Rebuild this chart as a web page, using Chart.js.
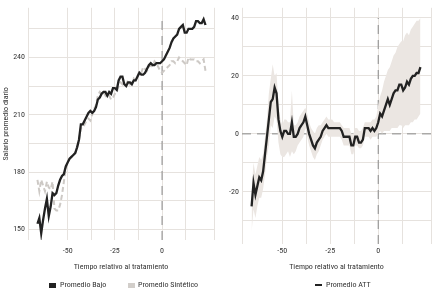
<!DOCTYPE html>
<html lang="es">
<head>
  <meta charset="UTF-8">
  <title>Salario promedio diario</title>
  <script src="https://cdn.jsdelivr.net/npm/chart.js"></script>
  <style>
    body { margin: 0; background: #fff; width: 435px; height: 291px; position: relative; overflow: hidden;
           font-family: 'Roboto Condensed', 'DejaVu Sans Condensed', sans-serif; color: #333; }
    canvas { position: absolute; top: 0; }
    #izq { left: 0; }
    #der { left: 220px; }
    .ley { position: absolute; top: 280px; font-size: 8px; font-weight: normal; line-height: 10px;
           white-space: nowrap; color: #333; transform: translateZ(0); }
    .caja { position: absolute; }
  </style>
</head>
<body>
<canvas id="izq" width="220" height="276"></canvas>
<canvas id="der" width="215" height="276"></canvas>

<!-- leyendas -->
<div class="caja" style="left:49px; top:283px; width:7px; height:5px; background:#222;"></div>
<div class="ley" style="left:60px;">Promedio Bajo</div>
<div class="caja" style="left:128px; top:283px; width:7px; height:5px; background:#d2ceca;"></div>
<div class="ley" style="left:138px;">Promedio Sintético</div>
<div class="caja" style="left:315px; top:284px; width:7px; height:2px; background:#222;"></div>
<div class="ley" style="left:326px;">Promedio ATT</div>

<script>
  // panel izquierdo
  const tiempo = [-66, -65, -64, -63, -62, -61, -60, -59, -58, -57, -56, -55, -54, -53, -52, -51, -50, -49, -48, -47,
    -46, -45, -44, -43, -42, -41, -40, -39, -38, -37, -36, -35, -34, -33, -32, -31, -30, -29, -28, -27,
    -26, -25, -24, -23, -22, -21, -20, -19, -18, -17, -16, -15, -14, -13, -12, -11, -10, -9, -8, -7,
    -6, -5, -4, -3, -2, -1, 0, 1, 2, 3, 4, 5, 6, 7, 8, 9, 10, 11, 12, 13,
    14, 15, 16, 17, 18, 19, 20, 21, 22, 23];
  const promedioBajo = [153, 156, 148, 155, 161, 166, 157, 162, 169, 168, 169, 173, 176, 178, 179, 183, 185, 187, 188, 189,
    190, 193, 197, 205, 205, 207, 209, 211, 212, 211, 212, 214, 218, 219, 221, 222, 222, 220, 222, 221,
    224, 224, 223, 228, 230, 230, 226, 225, 227, 227, 226, 228, 228, 230, 232, 231, 231, 232, 234, 236,
    237, 236, 236, 237, 237, 237, 238, 239, 241, 243, 245, 248, 250, 251, 252, 255, 256, 257, 253, 253,
    255, 255, 255, 256, 259, 259, 258, 258, 260, 257];
  const promedioSintetico = [176, 170, 176, 173, 170, 175, 172, 171, 175, 161, 160, 160, 163, 168, 175, 182, 185, 187, 188, 189,
    190, 193, 197, 203, 203, 205, 207, 208, 207, 210, 213, 215, 220, 222, 221, 222, 220, 219, 220, 218,
    219, 221, 222, 225, 227, 226, 225, 226, 228, 226, 227, 229, 228, 230, 233, 232, 235, 234, 233, 235,
    236, 235, 238, 237, 235, 233, 232, 233, 234, 235, 236, 238, 238, 237, 238, 240, 239, 238, 237, 236,
    240, 239, 239, 239, 238, 238, 237, 238, 239, 233];

  // panel derecho
  const tiempoATT = [-66, -65, -64, -63, -62, -61, -60, -59, -58, -57, -56, -55, -54, -53, -52, -51, -50, -49, -48, -47,
    -46, -45, -44, -43, -42, -41, -40, -39, -38, -37, -36, -35, -34, -33, -32, -31, -30, -29, -28, -27,
    -26, -25, -24, -23, -22, -21, -20, -19, -18, -17, -16, -15, -14, -13, -12, -11, -10, -9, -8, -7,
    -6, -5, -4, -3, -2, -1, 0, 1, 2, 3, 4, 5, 6, 7, 8, 9, 10, 11, 12, 13,
    14, 15, 16, 17, 18, 19, 20, 21, 22];
  const promedioATT = [-25, -17, -21, -18, -15, -16, -13, -7, -1, 5, 11, 12, 16, 14, 5, 1, -1, 1, 1, 0,
    0, 4, -1, -1, 0, 2, 3, 4, 6, 3, 0, -2, -4, -5, -3, -2, -1, 1, 2, 3,
    2, 2, 2, 2, 2, 2, 2, 1, -1, -1, -1, -1, -4, -4, -1, -1, -3, -3, -2, 2,
    2, 2, 1, 2, 1, 2, 4, 7, 6, 8, 10, 12, 10, 12, 14, 15, 15, 17, 17, 15,
    16, 18, 17, 19, 20, 20, 21, 21, 23];
  const attSuperior = [-19, -10, -14, -11, -8, -9, -7, -1, 5, 14, 19, 24, 20, 21, 10, 5, 3, 5, 5, 4,
    4, 15, 3, 3, 4, 6, 7, 8, 9, 7, 4, 2, 1, 0, 2, 3, 3, 4, 5, 6,
    5, 5, 5, 4, 4, 4, 4, 3, 2, 2, 2, 2, 0, 0, 2, 2, 1, 1, 2, 4,
    4, 4, 4, 5, 5, 6, 10, 13, 15, 18, 20, 22, 23, 25, 27, 28, 30, 31, 32, 32,
    34, 35, 34, 36, 37, 38, 39, 39, 40];
  const attInferior = [-34, -26, -29, -25, -22, -22, -19, -14, -8, -4, 3, 2, 6, 5, -3, -7, -8, -8, -7, -6,
    -8, -6, -7, -6, -4, -3, -2, -1, 2, -1, -4, -6, -8, -9, -7, -6, -4, -2, -1, 0,
    -1, -1, -1, -1, -1, -1, -1, -2, -4, -4, -4, -4, -7, -7, -4, -4, -5, -5, -4, -1,
    -1, -1, -2, -1, -1, -1, 0, 1, 0, 1, 1, 1, 1, 2, 2, 2, 2, 3, 3, 2,
    3, 3, 3, 4, 4, 5, 5, 6, 7];

  // lineas de referencia (tratamiento en t = 0)
  const refTiempo = [0, 0];
  const refSalario = [144.5, 260];
  const refATT = [-38, 40];
  const ceroTiempo = [-71, 27.5];
  const ceroATT = [0, 0];

  const fuente = "'Roboto Condensed', 'DejaVu Sans Condensed', sans-serif";
  Chart.defaults.font.family = fuente;
  Chart.defaults.font.size = 8;
  Chart.defaults.color = '#333';

  const rejilla = '#e6e2de';

  function puntos(xs, ys) {
    return xs.map((x, i) => ({ x: x, y: ys[i] }));
  }

  function ejeX(alto, sep) {
    return {
      type: 'linear', min: -71, max: 27.5,
      grid: { color: rejilla, drawTicks: false },
      border: { display: false },
      ticks: {
        stepSize: 12.5, padding: sep, maxRotation: 0, autoSkip: false,
        callback: v => (v % 25 === 0 ? String(v) : '')
      },
      title: { display: true, text: 'Tiempo relativo al tratamiento', padding: { top: 0, bottom: 4 } },
      afterFit: s => { s.height = alto; }
    };
  }

  // grafico izquierdo
  new Chart(document.getElementById('izq'), {
    type: 'line',
    data: {
      datasets: [
        { data: puntos(tiempo, promedioBajo), borderColor: '#222', borderWidth: 2.3, pointRadius: 0 },
        { data: puntos(tiempo, promedioSintetico), borderColor: '#cdc9c5', borderWidth: 2, borderDash: [5, 3], pointRadius: 0 },
        { data: puntos(refTiempo, refSalario), borderColor: '#888', borderWidth: 1, borderDash: [9, 6], pointRadius: 0 }
      ]
    },
    options: {
      responsive: false, animation: false,
      layout: { padding: { top: 2, right: 3 } },
      plugins: { legend: { display: false }, tooltip: { enabled: false } },
      scales: {
        x: ejeX(36, 6),
        y: {
          min: 144.5, max: 266,
          grid: { color: rejilla, drawTicks: false },
          border: { display: false },
          ticks: {
            stepSize: 15, padding: 3, includeBounds: false,
            callback: v => (v % 30 === 0 ? String(v) : '')
          },
          title: { display: true, text: 'Salario promedio diario', padding: { top: 1, bottom: 0 } },
          afterFit: s => { s.width = 28; }
        }
      }
    }
  });

  // grafico derecho
  new Chart(document.getElementById('der'), {
    type: 'line',
    data: {
      datasets: [
        { data: puntos(tiempoATT, promedioATT), borderColor: '#222', borderWidth: 2.3, pointRadius: 0 },
        { data: puntos(tiempoATT, attSuperior), borderColor: 'rgba(0,0,0,0)', borderWidth: 0, pointRadius: 0, fill: false },
        { data: puntos(tiempoATT, attInferior), borderColor: 'rgba(0,0,0,0)', borderWidth: 0, pointRadius: 0,
          fill: '-1', backgroundColor: '#ebe6e2' },
        { data: puntos(refTiempo, refATT), borderColor: '#888', borderWidth: 1, borderDash: [9, 6], pointRadius: 0 },
        { data: puntos(ceroTiempo, ceroATT), borderColor: '#888', borderWidth: 1, borderDash: [9, 6], pointRadius: 0 }
      ]
    },
    options: {
      responsive: false, animation: false,
      layout: { padding: { top: 2, right: 4 } },
      plugins: { legend: { display: false }, tooltip: { enabled: false } },
      scales: {
        x: ejeX(32, 2),
        y: {
          min: -38, max: 43.5,
          grid: { color: rejilla, drawTicks: false },
          border: { display: false },
          ticks: {
            stepSize: 10, padding: 3, includeBounds: false,
            callback: v => (v % 20 === 0 ? String(v) : '')
          },
          afterFit: s => { s.width = 22; }
        }
      }
    }
  });
</script>
</body>
</html>
